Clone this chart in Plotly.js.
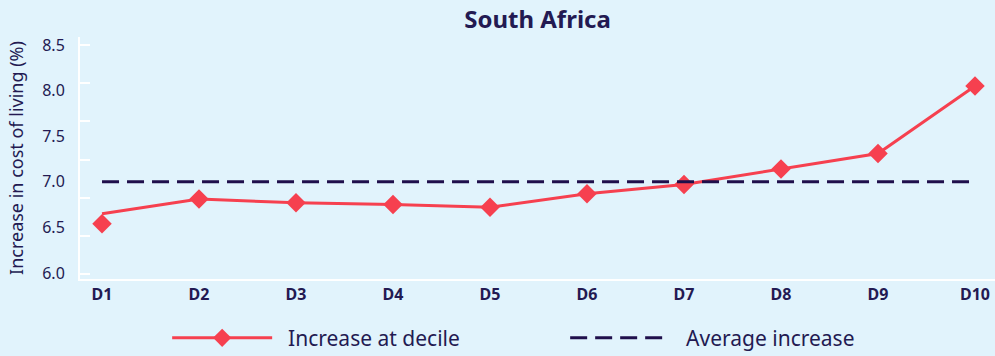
<!DOCTYPE html>
<html>
<head>
<meta charset="utf-8">
<script src="https://cdn.plot.ly/plotly-3.0.1.min.js"></script>
<style>html,body{margin:0;padding:0;background:#e1f3fc;}#chart{width:995px;height:356px;}</style>
</head>
<body>
<div id="chart"></div>
<script>
const deciles = ["D1","D2","D3","D4","D5","D6","D7","D8","D9","D10"];
const markerValues = [6.54, 6.81, 6.77, 6.75, 6.72, 6.87, 6.97, 7.14, 7.31, 8.05];
const lineValues = [6.65, 6.81, 6.77, 6.75, 6.72, 6.87, 6.97, 7.14, 7.31, 8.05];
const averageValues = [7.0, 7.0, 7.0, 7.0, 7.0, 7.0, 7.0, 7.0, 7.0, 7.0];
const yTickValues = [6.0, 6.5, 7.0, 7.5, 8.0, 8.5];
const yTickLabels = ["6.0", "6.5", "7.0", "7.5", "8.0", "8.5"];
const seriesNames = ["Increase at decile", "Average increase"];

const red = "#f6404f";
const navy = "#1f0f4b";
const textColor = "#231a52";
const font = "Noto Sans, Open Sans, sans-serif";
const pad = "\u00A0\u00A0";

const traces = [
  {
    x: deciles, y: lineValues, name: seriesNames[0],
    mode: "lines", showlegend: false,
    line: {color: red, width: 3},
    hoverinfo: "skip"
  },
  {
    x: deciles, y: markerValues, name: seriesNames[0],
    mode: "markers", showlegend: false,
    marker: {symbol: "diamond", color: red, size: 15},
    hoverinfo: "skip"
  },
  {
    x: deciles, y: deciles.map(() => null), name: pad + seriesNames[0],
    mode: "lines+markers",
    line: {color: red, width: 3},
    marker: {symbol: "diamond", color: red, size: 14},
    hoverinfo: "skip"
  },
  {
    x: deciles, y: averageValues, name: pad + seriesNames[1],
    mode: "lines",
    line: {color: navy, width: 3, dash: "17px,8px"},
    hoverinfo: "skip"
  },
  {
    x: [deciles[0]], y: [null], yaxis: "y2", showlegend: false,
    mode: "markers", hoverinfo: "skip"
  }
];

const layout = {
  width: 995, height: 356,
  paper_bgcolor: "#e1f3fc", plot_bgcolor: "#e1f3fc",
  margin: {l: 80, r: 0, t: 37, b: 77},
  font: {family: font, color: textColor},
  title: {text: "<b>South Africa</b>", font: {size: 24, color: textColor, family: font},
          x: 0.5, xref: "paper", xanchor: "center", y: 0.945, yref: "container", yanchor: "middle"},
  xaxis: {
    type: "category", range: [-0.227, 9.206],
    showgrid: false, zeroline: false,
    showline: true, linecolor: "#ffffff", linewidth: 2,
    ticks: "", ticklabelstandoff: 0,
    tickfont: {size: 16, color: textColor, family: "Noto Sans, sans-serif", weight: "bold"}
  },
  yaxis: {
    range: [5.934, 8.588],
    tickvals: yTickValues, ticktext: yTickLabels,
    showgrid: false, zeroline: false,
    showline: true, linecolor: "#ffffff", linewidth: 2,
    ticks: "", ticklabelstandoff: 10,
    tickfont: {size: 16, color: textColor},
    title: {text: "Increase in cost of living (%)", font: {size: 18, color: textColor}, standoff: 14}
  },
  yaxis2: {
    overlaying: "y", side: "left", range: [-0.13, 6.21],
    tick0: 0, dtick: 1, ticks: "inside", ticklen: 10, tickwidth: 2, tickcolor: "#ffffff",
    showticklabels: false, showgrid: false, zeroline: false, showline: false
  },
  showlegend: true,
  legend: {
    orientation: "h", xref: "container", yref: "container",
    x: 0.168, xanchor: "left", y: 0.05, yanchor: "middle",
    itemwidth: 100, entrywidth: 283, entrywidthmode: "pixels",
    font: {size: 21, color: textColor},
    bgcolor: "rgba(0,0,0,0)"
  }
};

Plotly.newPlot("chart", traces, layout, {displayModeBar: false, staticPlot: true});
</script>
</body>
</html>
